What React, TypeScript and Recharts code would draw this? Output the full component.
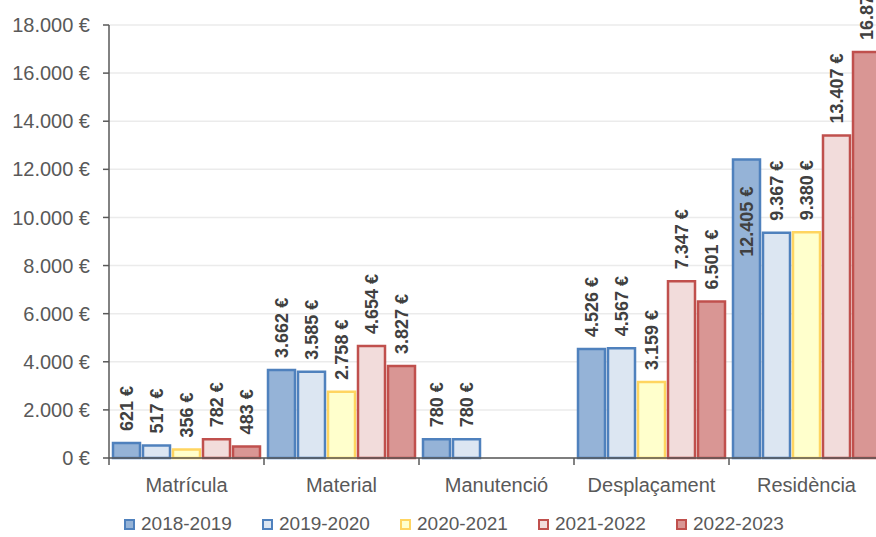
import { BarChart, Bar, XAxis, YAxis, CartesianGrid, Legend, LabelList } from 'recharts';

const CATEGORIES = ['Matrícula', 'Material', 'Manutenció', 'Desplaçament', 'Residència'];

const Y2018 = [621, 3662, 780, 4526, 12405];
const Y2019 = [517, 3585, 780, 4567, 9367];
const Y2020 = [356, 2758, null, 3159, 9380];
const Y2021 = [782, 4654, null, 7347, 13407];
const Y2022 = [483, 3827, null, 6501, 16875];

const Y_TICKS = [0, 2000, 4000, 6000, 8000, 10000, 12000, 14000, 16000, 18000];

const SERIES = [
  { key: 'y2018', name: '2018-2019', values: Y2018, fill: '#95b3d7', stroke: '#4f81bd' },
  { key: 'y2019', name: '2019-2020', values: Y2019, fill: '#dce6f2', stroke: '#4f81bd' },
  { key: 'y2020', name: '2020-2021', values: Y2020, fill: '#ffffcc', stroke: '#ffd560' },
  { key: 'y2021', name: '2021-2022', values: Y2021, fill: '#f2dcdb', stroke: '#c0504d' },
  { key: 'y2022', name: '2022-2023', values: Y2022, fill: '#d99694', stroke: '#c0504d' },
];

const FONT = '"Liberation Sans", Arial, sans-serif';
const AXIS_COLOR = '#595959';
const TEXT_COLOR = '#595959';
const LABEL_COLOR = '#404040';

const chartData = CATEGORIES.map((cat, i) => {
  const row: Record<string, any> = { cat };
  SERIES.forEach((s) => {
    row[s.key] = s.values[i];
  });
  return row;
});

const euro = (v: number) => `${v.toLocaleString('de-DE')} €`;

// Excel put the 2018-2019 Residència label inside the bar
const isInside = (key: string, i: number) => key === 'y2018' && CATEGORIES[i] === 'Residència';

function makeLabel(key: string) {
  return (props: any) => {
    const { x, y, width, value, index } = props;
    if (value == null) return null;
    const cx = Number(x) + Number(width) / 2;
    const inside = isInside(key, index);
    const ty = inside ? Number(y) + 27 : Number(y) - 12;
    return (
      <text
        transform={`translate(${cx},${ty}) rotate(-90)`}
        textAnchor={inside ? 'end' : 'start'}
        dominantBaseline="central"
        fill={LABEL_COLOR}
        fontSize={18}
        fontWeight="bold"
        fontFamily={FONT}
      >
        {euro(value)}
      </text>
    );
  };
}

function CategoryTick(props: any) {
  const { x, y, payload, index } = props;
  const half = payload?.offset ?? 77.5;
  return (
    <g>
      <line x1={x - half} y1={y} x2={x - half} y2={y + 7} stroke={AXIS_COLOR} strokeWidth={1.5} />
      {index === CATEGORIES.length - 1 && (
        <line x1={x + half} y1={y} x2={x + half} y2={y + 7} stroke={AXIS_COLOR} strokeWidth={1.5} />
      )}
      <text x={x} y={y + 34} textAnchor="middle" fill={TEXT_COLOR} fontSize={20} fontFamily={FONT}>
        {payload.value}
      </text>
    </g>
  );
}

function LegendContent() {
  return (
    <div style={{ display: 'flex', alignItems: 'center', height: 26, paddingLeft: 124 }}>
      {SERIES.map((s) => (
        <div key={s.key} style={{ display: 'flex', alignItems: 'center', width: 138 }}>
          <span
            style={{
              display: 'inline-block',
              width: 11,
              height: 11,
              boxSizing: 'border-box',
              border: `2px solid ${s.stroke}`,
              background: s.fill,
            }}
          />
          <span style={{ marginLeft: 6, fontSize: 19, color: TEXT_COLOR, fontFamily: FONT }}>{s.name}</span>
        </div>
      ))}
    </div>
  );
}

export default function App() {
  return (
    <div
      style={{
        position: 'fixed',
        left: 0,
        top: 0,
        width: 876,
        height: 537,
        overflow: 'hidden',
        background: '#fff',
        fontFamily: FONT,
      }}
    >
      <BarChart
        width={900}
        height={537}
        data={chartData}
        margin={{ top: 25, right: 16, left: 0, bottom: 9 }}
        barCategoryGap={4}
        barGap={3}
        style={{ overflow: 'visible' }}
      >
        <CartesianGrid horizontal vertical={false} stroke="#ebebeb" strokeWidth={1.5} />
        <XAxis
          dataKey="cat"
          height={44}
          tickLine={false}
          tickSize={0}
          tickMargin={0}
          stroke={AXIS_COLOR}
          strokeWidth={1.5}
          interval={0}
          tick={<CategoryTick />}
        />
        <YAxis
          width={109}
          domain={[0, 18000]}
          ticks={Y_TICKS}
          tickFormatter={euro}
          tickSize={6}
          tickMargin={13}
          stroke={AXIS_COLOR}
          strokeWidth={1.5}
          tick={{ fill: TEXT_COLOR, fontSize: 20, fontFamily: FONT }}
          interval={0}
        />
        <Legend
          verticalAlign="bottom"
          content={<LegendContent />}
          wrapperStyle={{ left: 0, top: 511, width: 876, height: 26 }}
        />
        {SERIES.map((s) => (
          <Bar
            key={s.key}
            dataKey={s.key}
            name={s.name}
            fill={s.fill}
            stroke={s.stroke}
            strokeWidth={2.5}
            isAnimationActive={false}
          >
            <LabelList dataKey={s.key} content={makeLabel(s.key)} />
          </Bar>
        ))}
      </BarChart>
    </div>
  );
}
